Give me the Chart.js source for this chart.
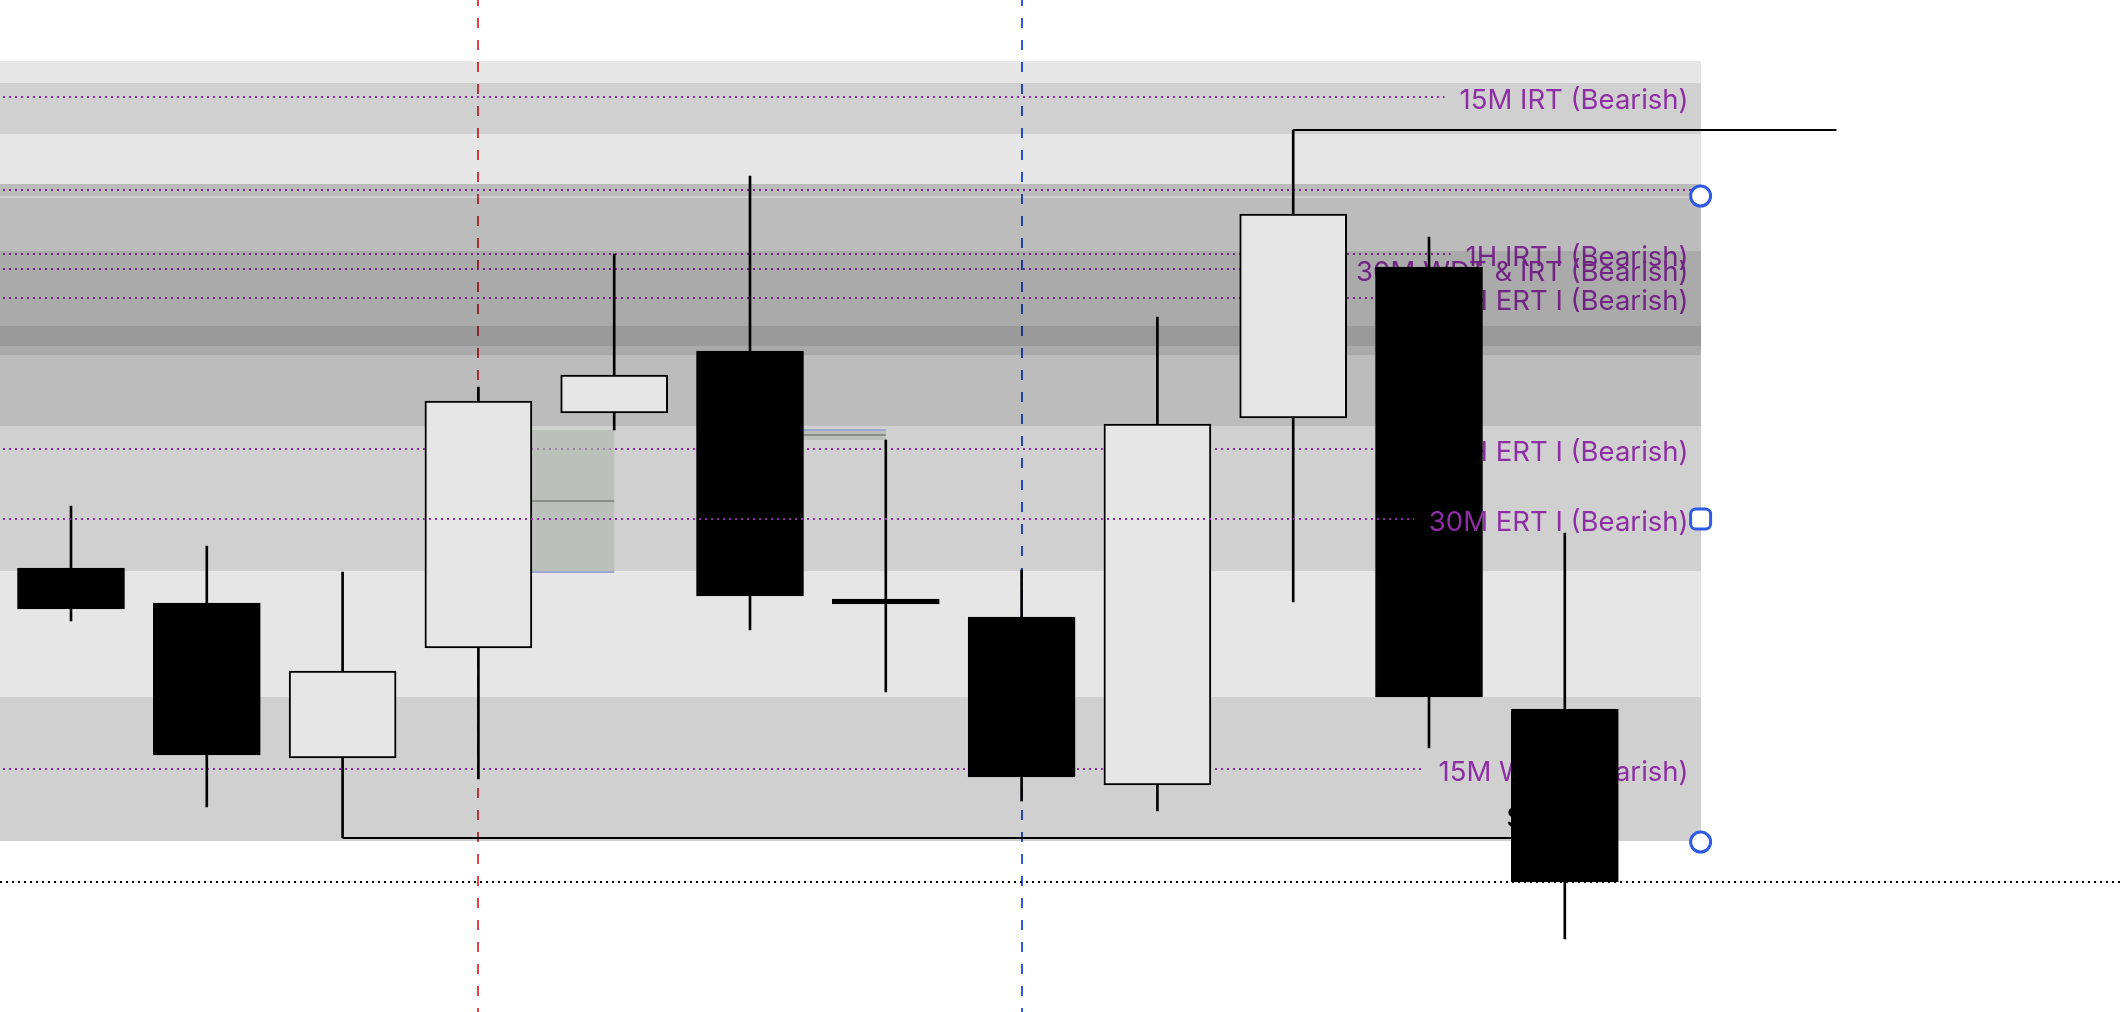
<!DOCTYPE html>
<html>
<head>
<meta charset="utf-8">
<script src="https://cdn.jsdelivr.net/npm/chart.js@4.4.1/dist/chart.umd.min.js"></script>
<style>
  html, body { margin: 0; padding: 0; background: #ffffff; overflow: hidden; }
  canvas { display: block; }
</style>
</head>
<body>
<canvas id="chart" width="2122" height="1012"></canvas>
<script>
// ---- Candles (bar index, OHLC) ----
const candleIndex = [0, 1, 2, 3, 4, 5, 6, 7, 8, 9, 10, 11];
const opens  = [4358.00, 4349.25, 4310.50, 4338.00, 4396.75, 4412.25, 4350.25, 4345.75, 4303.75, 4395.50, 4433.25, 4322.75];
const highs  = [4373.50, 4363.50, 4357.00, 4403.25, 4436.50, 4456.00, 4390.00, 4357.50, 4420.75, 4467.50, 4440.75, 4366.75];
const lows   = [4344.75, 4298.25, 4290.50, 4305.25, 4392.50, 4342.50, 4327.00, 4299.75, 4297.25, 4349.50, 4313.00, 4265.25];
const closes = [4347.75, 4311.25, 4332.25, 4399.75, 4406.25, 4351.00, 4349.00, 4305.75, 4394.00, 4446.50, 4325.75, 4279.50];

// ---- Shaded zones (stacked translucent rectangles) ----
const zoneTops    = [4484.75, 4479.25, 4454.00, 4454.00, 4450.50, 4437.25, 4418.50, 4325.75];
const zoneBottoms = [4289.75, 4466.50, 4357.25, 4451.00, 4393.50, 4411.25, 4413.50, 4289.75];
const zoneEndIndex = 12;

// ---- Level lines and their labels ----
const levelPrices = [4475.75, 4452.50, 4436.50, 4432.75, 4425.50, 4387.75, 4370.25, 4307.75];
const levelLabels = ['15M IRT (Bearish)', '', '1H IRT I (Bearish)', '30M WDT & IRT (Bearish)',
                     '1H ERT I (Bearish)', '1H ERT I (Bearish)', '30M ERT I (Bearish)', '15M WDT (Bearish)'];
const levelOnTop  = [false, false, false, false, false, false, true, false];

// ---- Fair value gaps: box from the middle candle's body edge to the third candle ----
const gapMiddle = [3, 5];
const gapThird  = [4, 6];
const gapEdge   = [4357.00, 4392.50];   // first candle's extreme (blue edge line)
const gapFar    = [4392.50, 4390.00];   // third candle's extreme

// ---- Swing lines ----
const swingStart = [9, 2];
const swingEnd   = [13, 11];
const swingPrice = [4467.50, 4290.50];
const sweepText  = 'SSL';

// ---- Session markers ----
const markerIndex  = [3, 7];
const markerColors = ['#e2424c', '#2f58e0'];

// ---- Handles of the selected range ----
const handleIndex  = 12;
const handlePrices = [4451.00, 4370.25, 4289.50];

const BODY_WIDTH = 107;
const LABEL_FONT = '27.5px Inter';
const LEVEL_COLOR = 'rgb(175,57,202)';
const LEVEL_COLOR_TOP = 'rgb(142,46,164)';
const ZONE_FILL = 'rgba(0,0,0,0.098)';

function drawLevel(ctx, xs, ys, i, color) {
  const yy = Math.round(ys.getPixelForValue(levelPrices[i]));
  const rightEdge = xs.getPixelForValue(zoneEndIndex);
  let lineEnd = rightEdge;
  const text = levelLabels[i];
  ctx.save();
  if (text) {
    ctx.font = LABEL_FONT;
    const textRight = rightEdge - 12;
    const w = ctx.measureText(text).width;
    lineEnd = textRight - w - 15;
    ctx.fillStyle = color;
    ctx.textAlign = 'right';
    ctx.textBaseline = 'alphabetic';
    ctx.fillText(text, textRight, yy + 12);
  }
  ctx.strokeStyle = color;
  ctx.lineWidth = 2;
  ctx.setLineDash([2, 4]);
  ctx.lineDashOffset = -3;
  ctx.beginPath();
  ctx.moveTo(0, yy);
  ctx.lineTo(lineEnd, yy);
  ctx.stroke();
  ctx.restore();
}

const overlay = {
  id: 'overlay',
  beforeDatasetsDraw(chart) {
    const { ctx, scales: { x, y }, chartArea } = chart;
    ctx.save();

    // session markers
    markerIndex.forEach((idx, k) => {
      const px = Math.round(x.getPixelForValue(idx));
      ctx.save();
      ctx.strokeStyle = markerColors[k];
      ctx.lineWidth = 2;
      ctx.setLineDash([10, 12]);
      ctx.lineDashOffset = 4;
      ctx.beginPath();
      ctx.moveTo(px, chartArea.top);
      ctx.lineTo(px, chartArea.bottom);
      ctx.stroke();
      ctx.restore();
    });

    // level lines beneath the candles
    levelPrices.forEach((p, i) => { if (!levelOnTop[i]) drawLevel(ctx, x, y, i, LEVEL_COLOR); });

    // swing lines
    ctx.strokeStyle = '#000';
    ctx.lineWidth = 2;
    swingPrice.forEach((p, i) => {
      const yy = Math.round(y.getPixelForValue(p));
      ctx.beginPath();
      ctx.moveTo(x.getPixelForValue(swingStart[i]), yy);
      ctx.lineTo(x.getPixelForValue(swingEnd[i]), yy);
      ctx.stroke();
    });
    // sweep label next to the sweeping candle
    {
      const last = swingEnd[1];
      ctx.font = LABEL_FONT;
      ctx.fillStyle = '#000';
      ctx.textAlign = 'left';
      ctx.textBaseline = 'alphabetic';
      ctx.fillText(sweepText, x.getPixelForValue(last) - BODY_WIDTH / 2 - 5, y.getPixelForValue(swingPrice[1]) - 11);
    }

    // last close line
    {
      const yy = Math.round(y.getPixelForValue(closes[closes.length - 1]));
      ctx.save();
      ctx.strokeStyle = '#000';
      ctx.lineWidth = 2;
      ctx.setLineDash([2, 4]);
      ctx.beginPath();
      ctx.moveTo(chartArea.left, yy);
      ctx.lineTo(chartArea.right, yy);
      ctx.stroke();
      ctx.restore();
    }

    // zones
    const zx1 = x.getPixelForValue(zoneEndIndex);
    ctx.fillStyle = ZONE_FILL;
    zoneTops.forEach((t, i) => {
      const y1 = Math.round(y.getPixelForValue(t));
      const y2 = Math.round(y.getPixelForValue(zoneBottoms[i]));
      ctx.fillRect(chartArea.left, y1, Math.round(zx1) - chartArea.left, y2 - y1);
    });

    // fair value gaps
    gapMiddle.forEach((m, i) => {
      const gx0 = x.getPixelForValue(m) + BODY_WIDTH / 2;
      const gx1 = x.getPixelForValue(gapThird[i]);
      const ya = y.getPixelForValue(gapEdge[i]);
      const yb = y.getPixelForValue(gapFar[i]);
      const top = Math.min(ya, yb), bot = Math.max(ya, yb);
      ctx.fillStyle = 'rgba(172,180,172,0.6)';
      ctx.fillRect(gx0, top, gx1 - gx0, bot - top);
      ctx.strokeStyle = 'rgb(138,141,138)';
      ctx.lineWidth = 2;
      const mid = (ya + yb) / 2;
      ctx.beginPath(); ctx.moveTo(gx0, mid); ctx.lineTo(gx1, mid); ctx.stroke();
      ctx.strokeStyle = 'rgb(154,168,206)';
      ctx.beginPath(); ctx.moveTo(gx0, ya); ctx.lineTo(gx1, ya); ctx.stroke();
    });

    ctx.restore();
  },
  afterDatasetsDraw(chart) {
    const { ctx, scales: { x, y } } = chart;
    levelPrices.forEach((p, i) => { if (levelOnTop[i]) drawLevel(ctx, x, y, i, LEVEL_COLOR_TOP); });

    // handles of the selected range
    const hx = x.getPixelForValue(handleIndex);
    ctx.save();
    ctx.strokeStyle = '#2d5be3';
    ctx.fillStyle = '#ffffff';
    ctx.lineWidth = 3;
    handlePrices.forEach((p, i) => {
      const hy = y.getPixelForValue(p);
      ctx.beginPath();
      if (i === 1) {
        ctx.roundRect(hx - 10, hy - 10, 20, 20, 5);
      } else {
        ctx.arc(hx, hy, 10, 0, Math.PI * 2);
      }
      ctx.fill();
      ctx.stroke();
    });
    ctx.restore();
  }
};

function buildChart() {
  const bodyColors = candleIndex.map(i => closes[i] >= opens[i] ? '#e6e6e6' : '#000000');
  new Chart(document.getElementById('chart'), {
    type: 'bar',
    data: {
      datasets: [
        {
          label: 'body',
          data: candleIndex.map(i => ({ x: i, y: [opens[i], closes[i]] })),
          backgroundColor: bodyColors,
          borderColor: '#000000',
          borderWidth: 2,
          borderSkipped: false,
          barThickness: BODY_WIDTH,
          grouped: false,
          order: 0
        },
        {
          label: 'wick',
          data: candleIndex.map(i => ({ x: i, y: [lows[i], highs[i]] })),
          backgroundColor: '#000000',
          borderWidth: 0,
          barThickness: 2,
          grouped: false,
          order: 1
        }
      ]
    },
    options: {
      responsive: false,
      animation: false,
      devicePixelRatio: 1,
      layout: { padding: 0 },
      plugins: { legend: { display: false }, tooltip: { enabled: false } },
      scales: {
        x: { type: 'linear', display: false, offset: false, min: -0.5228, max: 15.103 },
        y: { type: 'linear', display: false, beginAtZero: false, min: 4247, max: 4500 }
      }
    },
    plugins: [overlay]
  });
}

if (document.fonts && document.fonts.load) {
  document.fonts.load(LABEL_FONT).then(buildChart, buildChart);
} else {
  buildChart();
}
</script>
</body>
</html>
